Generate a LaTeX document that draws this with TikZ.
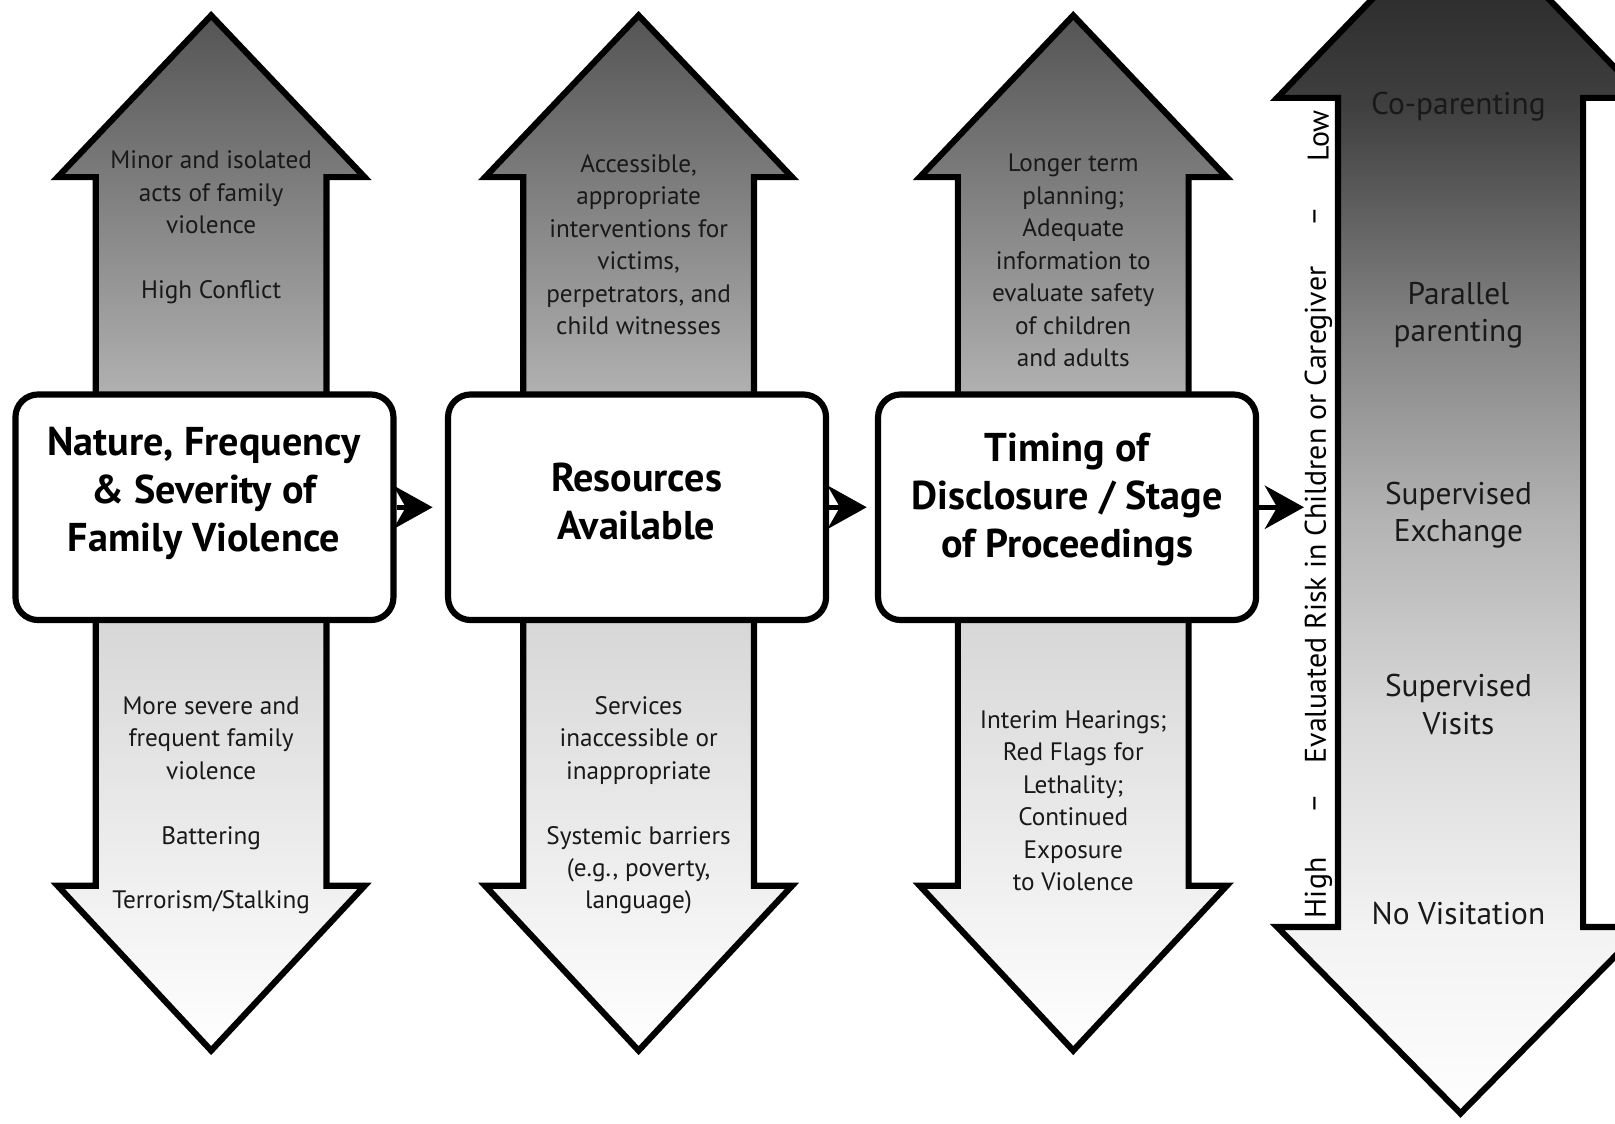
\documentclass[tikz,border=0pt]{standalone}
\usepackage{fontspec}
\setmainfont{PT Sans}
\usetikzlibrary{arrows.meta}
\definecolor{upTop}{gray}{0.33}
\definecolor{upBot}{gray}{0.70}
\definecolor{dnTop}{gray}{0.84}
\definecolor{dnBot}{gray}{1.0}
\definecolor{txt}{gray}{0.10}
\definecolor{bs0}{gray}{0.12}
\definecolor{bs1}{gray}{0.25}
\definecolor{bs2}{gray}{0.50}
\definecolor{bs3}{gray}{0.70}
\definecolor{bs4}{gray}{0.85}
\definecolor{bs5}{gray}{0.95}
\definecolor{bs6}{gray}{1.00}
\def\bigarrowpath{(1299,95) -- (1240,95) -- (1418,-90) -- (1596,95) -- (1537,95)
   -- (1537,900) -- (1596,900) -- (1418,1081) -- (1240,900) -- (1299,900) -- cycle}
\begin{document}
\begin{tikzpicture}[x=1pt,y=-1pt,
  arrowshape/.style={draw=black,line width=6pt,line join=miter,miter limit=10},
  upshade/.style={top color=upTop,bottom color=upBot},
  dnshade/.style={top color=dnTop,bottom color=dnBot},
  boxnode/.style={draw=black,line width=6pt,rounded corners=22pt,fill=white,
    minimum width=367pt,minimum height=219pt,inner sep=0pt},
  armtext/.style={align=center,text=txt,font=\fontsize{24.5}{31.5}\selectfont},
  bigtext/.style={align=center,text=txt,font=\fontsize{30.5}{36}\selectfont},
  titletext/.style={align=center,text=black,font=\bfseries\fontsize{39}{46.5}\selectfont},
  sidetext/.style={rotate=90,text=black,font=\fontsize{29}{32}\selectfont},
  conn/.style={line width=5pt,-{Stealth[length=38pt,width=42pt,inset=12pt]}}
]
\useasboundingbox (0,0) rectangle (1568,1091);
\fill[white] (0,0) rectangle (1568,1091);
\clip (0,0) rectangle (1568,1091);

% up and down arrows of the three columns
\foreach \cx in {205,620,1042}{
  \draw[arrowshape,upshade] (\cx-112,390) -- (\cx-112,172) -- (\cx-149,172) -- (\cx,15)
     -- (\cx+149,172) -- (\cx+112,172) -- (\cx+112,390) -- cycle;
  \draw[arrowshape,dnshade] (\cx-112,595) -- (\cx-112,860) -- (\cx-149,860) -- (\cx,1020)
     -- (\cx+149,860) -- (\cx+112,860) -- (\cx+112,595) -- cycle;
}

% big double arrow: piecewise gradient inside its outline
\begin{scope}
  \clip \bigarrowpath;
  \shade[top color=bs0,bottom color=bs1] (1230,-100) rectangle (1610,105);
  \shade[top color=bs1,bottom color=bs2] (1230,104) rectangle (1610,307);
  \shade[top color=bs2,bottom color=bs3] (1230,306) rectangle (1610,501);
  \shade[top color=bs3,bottom color=bs4] (1230,500) rectangle (1610,701);
  \shade[top color=bs4,bottom color=bs5] (1230,700) rectangle (1610,901);
  \shade[top color=bs5,bottom color=bs6] (1230,900) rectangle (1610,1095);
\end{scope}
\draw[arrowshape] \bigarrowpath;

% boxes
\node[boxnode] (b1) at (198.5,492.5) {};
\node[boxnode] (b2) at (618.5,492.5) {};
\node[boxnode] (b3) at (1036,492.5) {};
\coordinate (a4) at (1266,492.5);

\node[titletext] (t1) at (198,479) {Nature, Frequency\\\& Severity of\\Family Violence};
\node[titletext] (t2) at (618,487) {Resources\\Available};
\node[titletext] (t3) at (1036,485) {Timing of\\Disclosure / Stage\\of Proceedings};

% connectors
\draw[conn,shorten >=12pt] (b1.east) -- (b2.west);
\draw[conn,shorten >=8pt] (b2.east) -- (b3.west);
\draw[conn] (b3.east) -- (a4);

% arrow texts
\node[armtext] (u1) at (205,221) {Minor and isolated\\acts of family\\violence\\[31.5pt]High Conflict};
\node[armtext] (d1) at (205,782) {More severe and\\frequent family\\violence\\[31.5pt]Battering\\[31.5pt]Terrorism/Stalking};
\node[armtext] (u2) at (620,237.5) {Accessible,\\appropriate\\interventions for\\victims,\\perpetrators, and\\child witnesses};
\node[armtext] (d2) at (620,782) {Services\\inaccessible or\\inappropriate\\[31.5pt]Systemic barriers\\(e.g., poverty,\\language)};
\node[armtext] (u3) at (1042,253) {Longer term\\planning;\\Adequate\\information to\\evaluate safety\\of children\\and adults};
\node[armtext] (d3) at (1042,777.5) {Interim Hearings;\\Red Flags for\\Lethality;\\Continued\\Exposure\\to Violence};

% big arrow texts
\node[bigtext] (g1) at (1416,104) {Co-parenting};
\node[bigtext] (g2) at (1416,306) {Parallel\\parenting};
\node[bigtext] (g3) at (1416,500) {Supervised\\Exchange};
\node[bigtext] (g4) at (1416,684) {Supervised\\Visits};
\node[bigtext] (g5) at (1416,887) {No Visitation};

% side label
\node[sidetext] (s1) at (1280,862) {High};
\node[sidetext] (s2) at (1280,780) {–};
\node[sidetext] (s3) at (1280,500) {Evaluated Risk in Children or Caregiver};
\node[sidetext] (s4) at (1280,210) {–};
\node[sidetext] (s5) at (1280,132) {Low};
\end{tikzpicture}
\end{document}
